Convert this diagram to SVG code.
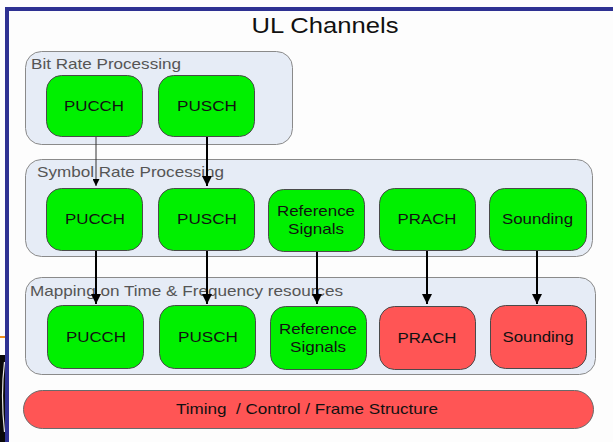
<svg xmlns="http://www.w3.org/2000/svg" width="613" height="442" viewBox="0 0 613 442">
  <defs>
    <style>
      .frame { fill: #2e3192; }
      .panel { fill: #e6ecf6; stroke: #8a8a8a; stroke-width: 1; }
      .panel-label { font-family: "Liberation Sans", Arial, sans-serif; font-size: 14.5px; fill: #555555; }
      .ch-green { fill: #00f000; stroke: #4a4a4a; stroke-width: 1; }
      .ch-red { fill: #ff5555; stroke: #4a4a4a; stroke-width: 1; }
      .bar { fill: #ff5555; stroke: #6a6a6a; stroke-width: 1; }
      .label { font-family: "Liberation Sans", Arial, sans-serif; font-size: 15px; fill: #111111; text-anchor: middle; }
      .title { font-family: "Liberation Sans", Arial, sans-serif; font-size: 22px; fill: #111111; text-anchor: middle; }
      .link { stroke: #000000; stroke-width: 2; fill: none; }
      .link-thin { stroke: #333333; stroke-width: 1; fill: none; }
    </style>
    <marker id="arrow" viewBox="0 0 10 10" refX="10" refY="5" markerWidth="5" markerHeight="5" orient="auto" markerUnits="strokeWidth">
      <path d="M0,0 L10,5 L0,10 z" fill="#000000"/>
    </marker>
    <marker id="arrow-small" viewBox="0 0 10 10" refX="10" refY="5" markerWidth="7" markerHeight="7" orient="auto" markerUnits="strokeWidth">
      <path d="M0,0 L10,5 L0,10 z" fill="#000000"/>
    </marker>
  </defs>

  <!-- page background -->
  <rect x="0" y="0" width="613" height="442" fill="#fdfdfd"/>

  <!-- slide edge strip on the left -->
  <rect x="0" y="336" width="5" height="2" fill="#f0901e"/>
  <rect x="0" y="355" width="5" height="87" fill="#0a0a0a"/>
  <path d="M4.5,362 Q0.5,395 4.5,432" stroke="#e8e8e8" stroke-width="1.2" fill="none"/>

  <!-- blue frame -->
  <rect class="frame" x="5" y="7" width="608" height="4"/>
  <rect class="frame" x="5" y="7" width="4" height="435"/>

  <text class="title" x="325" y="33" textLength="147" lengthAdjust="spacingAndGlyphs">UL Channels</text>

  <!-- processing stages -->
  <g id="stage-bit-rate">
    <rect class="panel" x="25.5" y="51.5" width="267" height="93" rx="16"/>
    <text class="panel-label" x="31" y="69" textLength="150" lengthAdjust="spacingAndGlyphs">Bit Rate Processing</text>
  </g>
  <g id="stage-symbol-rate">
    <rect class="panel" x="25.5" y="159.5" width="567" height="97" rx="16"/>
    <text class="panel-label" x="37" y="177" textLength="187" lengthAdjust="spacingAndGlyphs">Symbol Rate Processing</text>
  </g>
  <g id="stage-mapping">
    <rect class="panel" x="25.5" y="277.5" width="570" height="97" rx="16"/>
    <text class="panel-label" x="30" y="296" textLength="313" lengthAdjust="spacingAndGlyphs">Mapping on Time &amp; Frequency resources</text>
  </g>

  <!-- connectors -->
  <g id="connectors">
    <line class="link-thin" x1="96" y1="137" x2="96" y2="186" marker-end="url(#arrow-small)"/>
    <line class="link" x1="207" y1="137" x2="207" y2="186" marker-end="url(#arrow)"/>
    <line class="link" x1="96" y1="251" x2="96" y2="304" marker-end="url(#arrow)"/>
    <line class="link" x1="207" y1="251" x2="207" y2="304" marker-end="url(#arrow)"/>
    <line class="link" x1="317" y1="252" x2="317" y2="304" marker-end="url(#arrow)"/>
    <line class="link" x1="427" y1="251" x2="427" y2="304" marker-end="url(#arrow)"/>
    <line class="link" x1="537" y1="251" x2="537" y2="304" marker-end="url(#arrow)"/>
  </g>

  <!-- bit rate channels -->
  <g id="bit-pucch">
    <rect class="ch-green" x="46.5" y="75.5" width="96" height="61" rx="15"/>
    <text class="label" x="94" y="111" textLength="60" lengthAdjust="spacingAndGlyphs">PUCCH</text>
  </g>
  <g id="bit-pusch">
    <rect class="ch-green" x="158.5" y="75.5" width="96" height="61" rx="15"/>
    <text class="label" x="207" y="111" textLength="60" lengthAdjust="spacingAndGlyphs">PUSCH</text>
  </g>

  <!-- symbol rate channels -->
  <g id="sym-pucch">
    <rect class="ch-green" x="46.5" y="188.5" width="96" height="62" rx="15"/>
    <text class="label" x="95" y="224" textLength="60" lengthAdjust="spacingAndGlyphs">PUCCH</text>
  </g>
  <g id="sym-pusch">
    <rect class="ch-green" x="158.5" y="188.5" width="96" height="62" rx="15"/>
    <text class="label" x="207" y="224" textLength="60" lengthAdjust="spacingAndGlyphs">PUSCH</text>
  </g>
  <g id="sym-refsig">
    <rect class="ch-green" x="268.5" y="189.5" width="96" height="62" rx="15"/>
    <text class="label" x="316" y="216" textLength="78" lengthAdjust="spacingAndGlyphs">Reference</text>
    <text class="label" x="316" y="234" textLength="56" lengthAdjust="spacingAndGlyphs">Signals</text>
  </g>
  <g id="sym-prach">
    <rect class="ch-green" x="379.5" y="188.5" width="96" height="62" rx="15"/>
    <text class="label" x="427" y="224" textLength="59" lengthAdjust="spacingAndGlyphs">PRACH</text>
  </g>
  <g id="sym-sounding">
    <rect class="ch-green" x="489.5" y="188.5" width="97" height="62" rx="15"/>
    <text class="label" x="537.5" y="224" textLength="71" lengthAdjust="spacingAndGlyphs">Sounding</text>
  </g>

  <!-- mapped channels -->
  <g id="map-pucch">
    <rect class="ch-green" x="47.5" y="305.5" width="96" height="63" rx="15"/>
    <text class="label" x="96" y="342" textLength="60" lengthAdjust="spacingAndGlyphs">PUCCH</text>
  </g>
  <g id="map-pusch">
    <rect class="ch-green" x="159.5" y="305.5" width="96" height="63" rx="15"/>
    <text class="label" x="208" y="342" textLength="60" lengthAdjust="spacingAndGlyphs">PUSCH</text>
  </g>
  <g id="map-refsig">
    <rect class="ch-green" x="270.5" y="306.5" width="96" height="63" rx="15"/>
    <text class="label" x="318" y="334" textLength="78" lengthAdjust="spacingAndGlyphs">Reference</text>
    <text class="label" x="318" y="352" textLength="56" lengthAdjust="spacingAndGlyphs">Signals</text>
  </g>
  <g id="map-prach">
    <rect class="ch-red" x="379.5" y="306.5" width="96" height="63" rx="15"/>
    <text class="label" x="427" y="343" textLength="59" lengthAdjust="spacingAndGlyphs">PRACH</text>
  </g>
  <g id="map-sounding">
    <rect class="ch-red" x="490.5" y="305.5" width="96" height="63" rx="15"/>
    <text class="label" x="538" y="342" textLength="71" lengthAdjust="spacingAndGlyphs">Sounding</text>
  </g>

  <!-- timing bar -->
  <g id="timing">
    <rect class="bar" x="23.5" y="390.5" width="570" height="38" rx="19"/>
    <text class="label" x="307" y="414" xml:space="preserve" textLength="262" lengthAdjust="spacingAndGlyphs">Timing  / Control / Frame Structure</text>
  </g>
</svg>
